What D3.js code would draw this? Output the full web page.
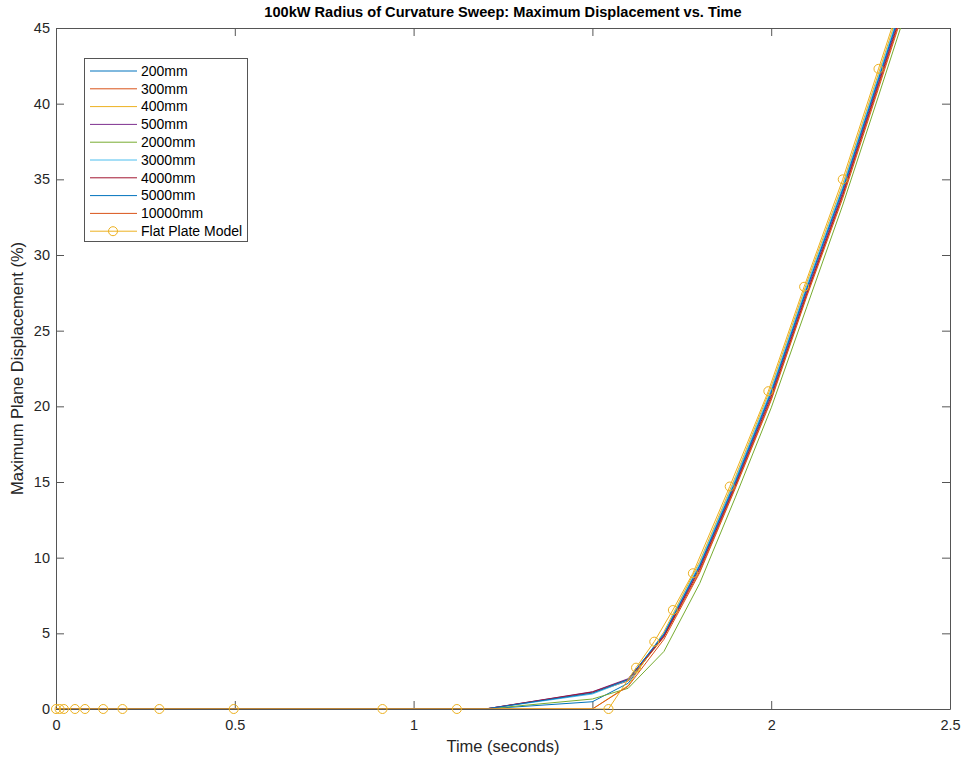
<!DOCTYPE html>
<html>
<head>
<meta charset="utf-8">
<script src="https://cdn.jsdelivr.net/npm/d3@7"></script>
<style>
  html, body { margin: 0; padding: 0; background: #fff; }
  svg { display: block; font-family: "Liberation Sans", Arial, Helvetica, sans-serif; }
</style>
</head>
<body>
<svg id="chart" width="963" height="758"></svg>
<script>
// Sample times (s) shared by the radius-of-curvature runs
const sweepTimes = [0, 1.2, 1.5, 1.6, 1.7, 1.8, 1.9, 2.0, 2.1, 2.2, 2.3, 2.4];

// Maximum plane displacement (%) for each radius of curvature
const disp200   = [0, 0, 0.48, 1.70, 4.90, 9.50, 15.10, 21.00, 27.85, 34.40, 41.65, 48.95];
const disp300   = [0, 0, 1.08, 1.85, 4.75, 9.10, 14.70, 20.50, 27.40, 33.90, 41.15, 48.45];
const disp400   = [0, 0, 0.00, 1.55, 5.10, 9.75, 15.35, 21.30, 28.20, 34.70, 42.00, 49.30];
const disp500   = [0, 0, 1.14, 2.00, 4.85, 9.35, 14.90, 20.80, 27.65, 34.15, 41.45, 48.75];
const disp2000  = [0, 0, 0.66, 1.37, 3.80, 8.30, 14.00, 19.90, 26.60, 33.30, 40.50, 47.80];
const disp3000  = [0, 0, 0.99, 1.90, 5.00, 9.60, 15.20, 21.10, 28.00, 34.50, 41.80, 49.10];
const disp4000  = [0, 0, 1.12, 1.95, 4.80, 9.25, 14.80, 20.65, 27.50, 34.00, 41.30, 48.60];
const disp5000  = [0, 0, 1.05, 1.95, 4.95, 9.45, 15.00, 20.90, 27.80, 34.30, 41.60, 48.90];
const disp10000 = [0, 0, 0.00, 1.50, 4.60, 9.00, 14.60, 20.40, 27.30, 33.75, 41.00, 48.30];

// Flat plate reference model (its own time stamps)
const flatTimes = [0, 0.01, 0.022, 0.053, 0.081, 0.132, 0.186, 0.289, 0.497, 0.913, 1.121, 1.545,
                   1.622, 1.673, 1.725, 1.781, 1.884, 1.992, 2.092, 2.200, 2.300, 2.410];
const flatDisp  = [0, 0, 0, 0, 0, 0, 0, 0, 0, 0, 0, 0,
                   2.73, 4.45, 6.54, 8.97, 14.70, 21.00, 27.90, 35.00, 42.30, 50.30];

const seriesNames  = ["200mm", "300mm", "400mm", "500mm", "2000mm", "3000mm", "4000mm", "5000mm", "10000mm"];
const seriesValues = [disp200, disp300, disp400, disp500, disp2000, disp3000, disp4000, disp5000, disp10000];
const flatName = "Flat Plate Model";

const xTicks = [0, 0.5, 1, 1.5, 2, 2.5];
const yTicks = [0, 5, 10, 15, 20, 25, 30, 35, 40, 45];

const titleText = "100kW Radius of Curvature Sweep: Maximum Displacement vs. Time";
const xLabel = "Time (seconds)";
const yLabel = "Maximum Plane Displacement (%)";

// MATLAB default colour order
const palette = ["#0072BD", "#D95319", "#EDB120", "#7E2F8E", "#77AC30", "#4DBEEE", "#A2142F"];

const svg = d3.select("#chart");
const plot = { left: 56, right: 950, top: 28, bottom: 709 };

const x = d3.scaleLinear().domain([0, 2.5]).range([plot.left, plot.right]);
const y = d3.scaleLinear().domain([0, 45]).range([plot.bottom, plot.top]);

const axisColor = "#555555";
const tickLen = 8;

svg.append("defs").append("clipPath").attr("id", "plotClip")
  .append("rect")
  .attr("x", plot.left).attr("y", plot.top)
  .attr("width", plot.right - plot.left).attr("height", plot.bottom - plot.top);

// Axes: ticks point inward, mirrored on top/right
const gx = svg.append("g").attr("transform", `translate(0,${plot.bottom})`)
  .call(d3.axisBottom(x).tickValues(xTicks).tickSizeInner(-tickLen).tickSizeOuter(0).tickPadding(11)
    .tickFormat(d3.format("~g")));
const gxTop = svg.append("g").attr("transform", `translate(0,${plot.top})`)
  .call(d3.axisTop(x).tickValues(xTicks).tickSizeInner(-tickLen).tickSizeOuter(0).tickFormat(""));
const gy = svg.append("g").attr("transform", `translate(${plot.left},0)`)
  .call(d3.axisLeft(y).tickValues(yTicks).tickSizeInner(-tickLen).tickSizeOuter(0).tickPadding(6)
    .tickFormat(d3.format("~g")));
const gyRight = svg.append("g").attr("transform", `translate(${plot.right},0)`)
  .call(d3.axisRight(y).tickValues(yTicks).tickSizeInner(-tickLen).tickSizeOuter(0).tickFormat(""));

[gx, gxTop, gy, gyRight].forEach(g => {
  g.select(".domain").attr("stroke", axisColor).attr("stroke-width", 1);
  g.selectAll(".tick line").attr("stroke", axisColor).attr("stroke-width", 1);
  g.selectAll(".tick text").attr("fill", "#262626").attr("font-size", 14.5)
    .attr("font-family", "Liberation Sans, Arial, sans-serif");
});

// Data lines
const line = d3.line().x(d => x(d[0])).y(d => y(d[1]));
const lines = svg.append("g").attr("clip-path", "url(#plotClip)");

seriesValues.forEach((vals, i) => {
  const pts = sweepTimes.map((t, k) => [t, vals[k]]);
  lines.append("path")
    .attr("d", line(pts))
    .attr("fill", "none")
    .attr("stroke", palette[i % palette.length])
    .attr("stroke-width", 1);
});

const flatColor = palette[seriesValues.length % palette.length];
const flatPts = flatTimes.map((t, k) => [t, flatDisp[k]]);
lines.append("path")
  .attr("d", line(flatPts))
  .attr("fill", "none")
  .attr("stroke", flatColor)
  .attr("stroke-width", 1);

svg.append("g").selectAll("circle")
  .data(flatPts.filter(d => d[1] <= 45))
  .join("circle")
  .attr("cx", d => x(d[0]))
  .attr("cy", d => y(d[1]))
  .attr("r", 4.5)
  .attr("fill", "none")
  .attr("stroke", flatColor)
  .attr("stroke-width", 1);

// Titles
svg.append("text")
  .attr("x", (plot.left + plot.right) / 2).attr("y", 17)
  .attr("text-anchor", "middle")
  .attr("font-size", 14.6).attr("font-weight", "bold").attr("fill", "#000")
  .text(titleText);

svg.append("text")
  .attr("x", (plot.left + plot.right) / 2).attr("y", 752)
  .attr("text-anchor", "middle")
  .attr("font-size", 16.5).attr("fill", "#262626")
  .text(xLabel);

svg.append("text")
  .attr("transform", `translate(23,${(plot.top + plot.bottom) / 2}) rotate(-90)`)
  .attr("text-anchor", "middle")
  .attr("font-size", 16.5).attr("fill", "#262626")
  .text(yLabel);

// Legend
const legend = svg.append("g");
legend.append("rect")
  .attr("x", 84.5).attr("y", 58.5).attr("width", 163).attr("height", 183)
  .attr("fill", "#fff").attr("stroke", axisColor).attr("stroke-width", 1);

const legendItems = seriesNames.map((n, i) => ({ name: n, color: palette[i % palette.length], marker: false }))
  .concat([{ name: flatName, color: flatColor, marker: true }]);

legendItems.forEach((item, i) => {
  const yy = 71 + i * 17.8;
  legend.append("line")
    .attr("x1", 90).attr("x2", 137).attr("y1", yy).attr("y2", yy)
    .attr("stroke", item.color).attr("stroke-width", 1);
  if (item.marker) {
    legend.append("circle")
      .attr("cx", 113).attr("cy", yy).attr("r", 4.5)
      .attr("fill", "none").attr("stroke", item.color).attr("stroke-width", 1);
  }
  legend.append("text")
    .attr("x", 141).attr("y", yy + 4.8)
    .attr("font-size", 14).attr("fill", "#000")
    .text(item.name);
});
</script>
</body>
</html>
